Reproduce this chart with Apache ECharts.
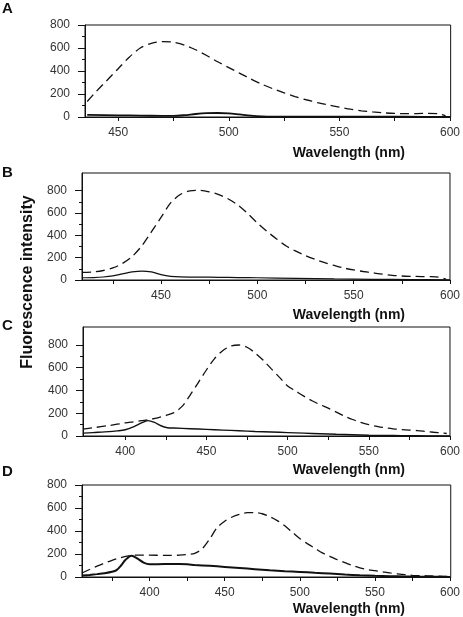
<!DOCTYPE html>
<html><head><meta charset="utf-8">
<script src="https://cdn.jsdelivr.net/npm/echarts@6/dist/echarts.min.js"></script>
<style>html,body{margin:0;padding:0;background:#fff}#c{width:463px;height:617px}</style>
</head><body><div id="c"></div>
<script>
// ---- Panel A ----
const aDashWl = [436,440,445,450,455,460,465,470,475,480,485,490,495,500,505,510,515,520,525,530,535,540,545,550,555,560,565,570,575,580,585,590,595,598];
const aDash   = [135,220,320,420,520,600,640,655,650,625,585,535,480,430,380,330,285,245,210,178,150,125,105,86,68,54,44,36,31,29,30,32,27,10];
const aSolWl  = [436,450,460,470,475,480,485,490,495,500,505,510,515,520,540,560,580,600];
const aSol    = [18,15,12,10,10,16,26,33,35,32,22,12,6,4,3,2,2,1];
// ---- Panel B ----
const bDashWl = [409,415,420,425,430,435,440,445,450,455,460,465,470,475,480,485,490,495,500,505,510,515,520,525,530,535,540,545,550,555,560,565,570,575,580,585,590,594,598];
const bDash   = [68,72,85,108,148,210,305,430,560,690,765,798,802,790,765,725,670,595,510,435,368,305,258,218,185,155,130,107,90,76,64,52,42,36,33,31,30,25,8];
const bSolWl  = [409,415,420,425,430,435,440,445,450,455,460,470,480,490,500,520,540,560,580,600];
const bSol    = [20,22,27,37,55,72,80,72,48,33,28,26,24,22,20,15,10,6,4,2];
// ---- Panel C ----
const cDashWl = [374,380,390,400,405,410,415,420,425,430,435,440,445,450,455,460,465,470,475,480,485,490,495,500,505,510,515,520,525,530,535,540,545,550,555,560,565,570,575,580,585,590,595,598];
const cDash   = [60,72,92,115,125,135,145,160,180,205,260,360,470,580,680,750,790,800,780,730,665,590,515,440,395,350,310,275,245,210,175,145,120,100,85,72,63,57,52,47,40,33,27,22];
const cSolWl  = [374,380,390,395,400,405,410,414,418,422,426,430,440,450,460,470,480,490,500,510,520,530,540,550,560,570,580,590,600];
const cSol    = [25,30,38,45,55,80,115,135,120,90,73,70,64,58,52,46,40,35,30,25,20,15,11,7,5,3,2,1,0];
// ---- Panel D ----
const dDashWl = [355,360,365,370,375,380,385,390,400,410,420,425,430,435,440,445,450,455,460,465,470,475,480,485,490,495,500,505,510,515,520,525,530,535,540,545,550,555,560,565,570,575,580,585,590,595,598];
const dDash   = [35,65,95,120,145,165,182,190,190,188,190,195,205,245,330,430,485,522,545,560,560,550,525,490,445,390,335,290,250,210,180,150,125,100,80,65,55,45,35,27,20,15,12,10,8,6,5];
const dSolWl  = [355,360,365,370,375,378,381,384,388,392,396,400,410,420,425,430,440,450,460,470,480,490,500,510,520,530,540,550,560,570,580,590,600];
const dSol    = [12,18,25,33,45,60,100,150,185,160,125,110,112,112,110,105,97,88,78,68,58,50,44,37,30,22,15,10,7,5,3,2,1];

const yMajor = [0,200,400,600,800];
const yMinor = [100,300,500,700];

const FONT = '"Liberation Sans", Arial, sans-serif';
const panels = [
  {grid:{left:85,top:25,width:369,height:92}, xMin:435, xMax:600.3, yMax:800,
   xTicks:[450,475,500,525,550,575,600], xLabels:[450,500,550,600],
   dash:[aDashWl,aDash], sol:[aSolWl,aSol], solW:1.8},
  {grid:{left:82,top:173,width:369,height:107}, xMin:409, xMax:600, yMax:958,
   xTicks:[425,450,475,500,525,550,575,600], xLabels:[450,500,550,600],
   dash:[bDashWl,bDash], sol:[bSolWl,bSol], solW:1.2},
  {grid:{left:83,top:327,width:369,height:109}, xMin:374, xMax:600, yMax:958,
   xTicks:[400,425,450,475,500,525,550,575,600], xLabels:[400,450,500,550,600],
   dash:[cDashWl,cDash], sol:[cSolWl,cSol], solW:1.4},
  {grid:{left:82,top:485,width:369,height:92}, xMin:355, xMax:600.5, yMax:800,
   xTicks:[375,400,425,450,475,500,525,550,575,600], xLabels:[400,450,500,550,600],
   dash:[dDashWl,dDash], sol:[dSolWl,dSol], solW:2},
];

const grid=[], xAxis=[], yAxis=[], series=[];
const axisLine = {show:true, onZero:false, lineStyle:{color:'#111', width:1}};
panels.forEach((p,i)=>{
  grid.push(Object.assign({show:true, borderColor:'#111', borderWidth:1, containLabel:false}, p.grid));
  grid.push(Object.assign({show:false}, p.grid));
  const gi = 2*i;
  xAxis.push({type:'value', gridIndex:gi, min:p.xMin, max:p.xMax, position:'bottom',
    axisLine, splitLine:{show:false},
    axisTick:{show:true, length:4, customValues:p.xTicks, lineStyle:{color:'#111'}},
    axisLabel:{show:true, customValues:p.xLabels, margin:10, color:'#333', fontSize:12, fontFamily:FONT}});
  yAxis.push({type:'value', gridIndex:gi, min:0, max:p.yMax, position:'left',
    axisLine, splitLine:{show:false},
    axisTick:{show:true, length:7, customValues:yMajor, lineStyle:{color:'#111'}},
    axisLabel:{show:true, customValues:yMajor, margin:15, color:'#333', fontSize:12, fontFamily:FONT}});
  xAxis.push({type:'value', gridIndex:gi+1, min:p.xMin, max:p.xMax, show:false});
  yAxis.push({type:'value', gridIndex:gi+1, min:0, max:p.yMax, position:'left',
    axisLine:{show:false}, splitLine:{show:false}, axisLabel:{show:false},
    axisTick:{show:true, length:3, customValues:yMinor, lineStyle:{color:'#111'}}});
  series.push({type:'line', xAxisIndex:gi, yAxisIndex:gi, showSymbol:false, smooth:0.3, silent:true,
    data:p.dash[0].map((x,k)=>[x,p.dash[1][k]]),
    lineStyle:{color:'#111', width:1.3, type:[9,5]}});
  series.push({type:'line', xAxisIndex:gi, yAxisIndex:gi, showSymbol:false, smooth:0.3, silent:true,
    data:p.sol[0].map((x,k)=>[x,p.sol[1][k]]),
    lineStyle:{color:'#111', width:p.solW}});
});

const letters = [['A',9],['B',173],['C',326],['D',472]];
const wlY = [153.5,315,470,609];
const graphic = [];
letters.forEach(([t,y])=>graphic.push({type:'text', style:{text:t, x:2, y:y, textVerticalAlign:'middle', font:'bold 15px '+FONT, fill:'#111'}}));
wlY.forEach(y=>graphic.push({type:'text', style:{text:'Wavelength (nm)', x:405, y:y, textAlign:'right', textVerticalAlign:'middle', font:'bold 14px '+FONT, fill:'#111'}}));
graphic.push({type:'text', x:28, y:282, rotation:Math.PI/2, style:{text:'Fluorescence intensity', x:0, y:0, textAlign:'center', textVerticalAlign:'middle', font:'bold 16px '+FONT, fill:'#111'}});

const chart = echarts.init(document.getElementById('c'), null, {renderer:'canvas'});
chart.setOption({animation:false, backgroundColor:'#fff', grid, xAxis, yAxis, series, graphic});
</script></body></html>
